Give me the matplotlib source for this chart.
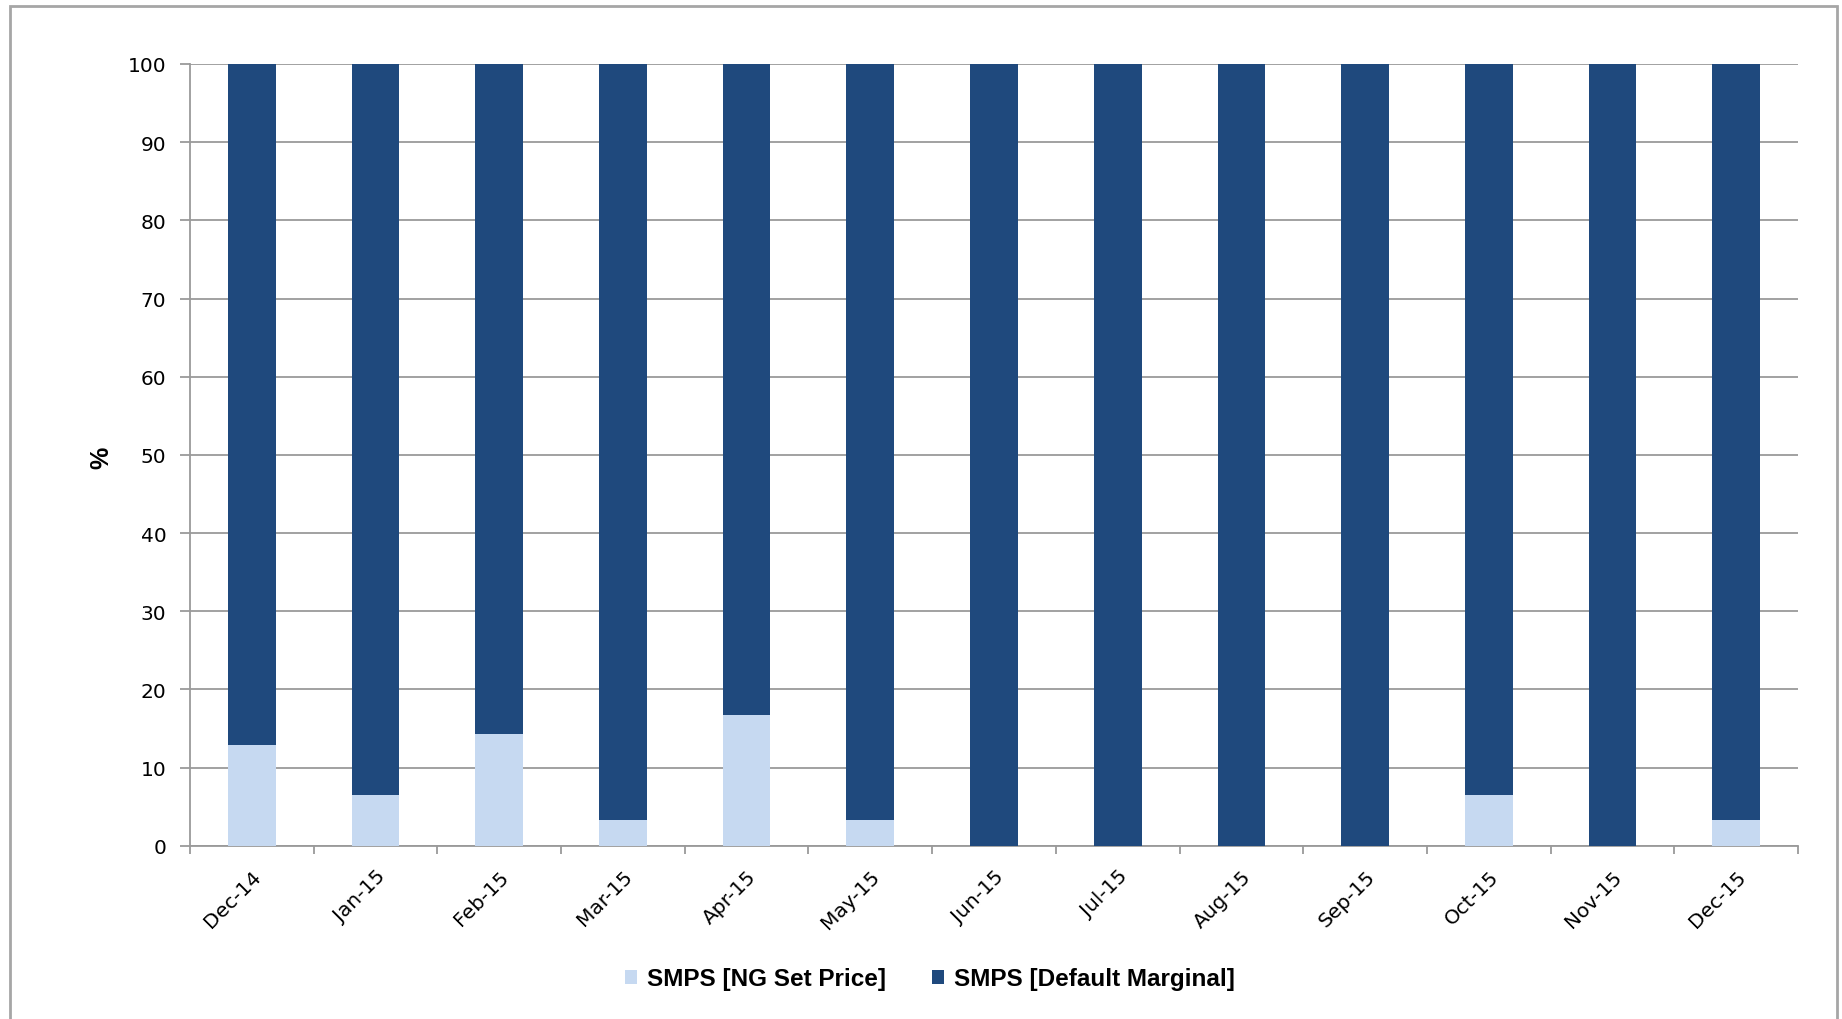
import matplotlib
matplotlib.use("Agg")
import matplotlib.pyplot as plt
from matplotlib.patches import Rectangle
import numpy as np

months = ["Dec-14", "Jan-15", "Feb-15", "Mar-15", "Apr-15", "May-15", "Jun-15",
          "Jul-15", "Aug-15", "Sep-15", "Oct-15", "Nov-15", "Dec-15"]
ng_set_price = [12.9, 6.45, 14.3, 3.23, 16.7, 3.23, 0, 0, 0, 0, 6.45, 0, 3.23]
default_marginal = [87.1, 93.55, 85.7, 96.77, 83.3, 96.77, 100, 100, 100, 100, 93.55, 100, 96.77]
y_ticks = [0, 10, 20, 30, 40, 50, 60, 70, 80, 90, 100]

plt.rcParams['font.family'] = ['Liberation Sans', 'DejaVu Sans']

light = "#C6D9F1"
dark = "#1F497D"
grid_c = "#9A9A9A"
tick_font = ['DejaVu Sans']

W, H = 1842, 1020
fig = plt.figure(figsize=(W / 100, H / 100), dpi=100)
fig.patches.append(Rectangle((10 / W, -0.01), (1837 - 10) / W, 1 - 7 / H + 0.01,
                             transform=fig.transFigure, fill=False, edgecolor="#A6A6A6", lw=2))
ax = fig.add_axes([190 / W, 1 - 846.7 / H, (1798 - 190) / W, (846.7 - 65) / H])

x = np.arange(len(months))
w = 0.385
ax.bar(x, ng_set_price, w, color=light, label="SMPS [NG Set Price]", zorder=3)
ax.bar(x, default_marginal, w, bottom=ng_set_price, color=dark, label="SMPS [Default Marginal]", zorder=3)

ax.set_xlim(-0.5, len(months) - 0.5)
ax.set_ylim(0, 100)
ax.set_yticks(y_ticks)
ax.set_yticklabels([str(v) for v in y_ticks], fontsize=14.5, family=tick_font)
ax.yaxis.grid(True, color=grid_c, lw=1.3, zorder=0)
ax.set_axisbelow(True)

ax.set_xticks(x)
ax.set_xticklabels(months, fontsize=14.5, family=tick_font, rotation=45, ha='right',
                   va='top', rotation_mode='anchor')
ax.set_xticks(np.arange(-0.5, len(months), 1), minor=True)
ax.tick_params(axis='x', which='major', length=0, pad=15)
ax.tick_params(axis='x', which='minor', length=6, width=1.3, color=grid_c)
ax.tick_params(axis='y', length=7, width=1.3, color=grid_c, pad=10)

for s in ['top', 'right']:
    ax.spines[s].set_visible(False)
for s in ['left', 'bottom']:
    ax.spines[s].set_color(grid_c)
    ax.spines[s].set_linewidth(1.3)

fig.text(101 / W, 1 - 458 / H, "%", rotation=90, fontsize=18, fontweight='bold',
         ha='center', va='center')

leg = fig.legend(loc='center', bbox_to_anchor=(930 / W, 1 - 980 / H), ncol=2, frameon=False,
                 prop={'weight': 'bold', 'size': 17.5}, handlelength=0.5, handleheight=0.5,
                 handletextpad=0.4, columnspacing=1.9)

fig.savefig("out.png", dpi=100)
